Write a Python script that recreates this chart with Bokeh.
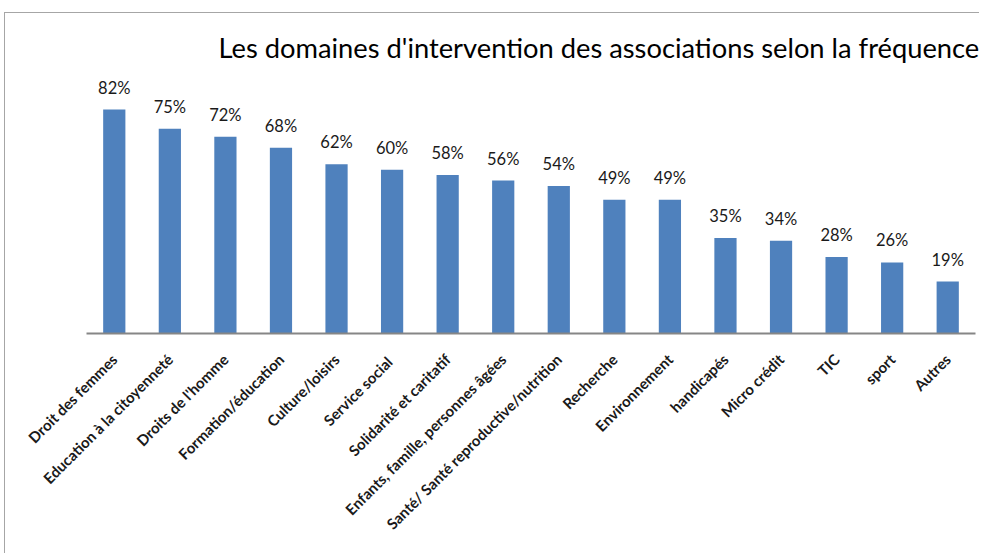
from bokeh.plotting import figure
from bokeh.models import ColumnDataSource, Range1d, FactorRange
from bokeh.core.properties import value
from bokeh.embed import file_html
from bokeh.resources import INLINE
from math import pi

title_text = "Les domaines d'intervention des associations selon la fréquence"
categories = ["Droit des femmes", "Education à la citoyenneté", "Droits de l'homme",
              "Formation/éducation", "Culture/loisirs", "Service  social",
              "Solidarité et caritatif", "Enfants, famille, personnes âgées",
              "Santé/ Santé reproductive/nutrition", "Recherche", "Environnement",
              "handicapés", "Micro crédit", "TIC", "sport", "Autres"]
values = [82, 75, 72, 68, 62, 60, 58, 56, 54, 49, 49, 35, 34, 28, 26, 19]
value_labels = [f"{v}%" for v in values]

src = ColumnDataSource(dict(cat=categories, val=values, lab=value_labels))

p = figure(width=975, height=541, output_backend="svg", toolbar_location=None,
           x_range=FactorRange(*categories), y_range=Range1d(0, 96.3),
           min_border_left=81, min_border_right=5, min_border_top=57,
           min_border_bottom=221)
p.styles = {"margin-left": "4px", "margin-top": "12px",
            "border-left": "1px solid #a6a6a6", "border-top": "1px solid #a6a6a6"}

p.title.text = title_text
p.title.text_font = "Lato"
p.title.text_font_style = "normal"
p.title.text_font_size = "27.3px"
p.title.text_color = "#000000"
p.title.align = "left"
p.title.offset = 132
p.title.standoff = 14

p.vbar(x="cat", top="val", width=0.4, source=src, color="#4F81BD", line_color=None)
p.text(x="cat", y="val", text="lab", source=src, y_offset=-12,
       text_align="center", text_baseline="bottom", text_font_size="16.5px",
       text_font=value("Lato"), text_color="#1a1a1a")

p.yaxis.visible = False
p.xgrid.grid_line_color = None
p.ygrid.grid_line_color = None
p.outline_line_color = None
p.xaxis.axis_line_color = "#868686"
p.xaxis.axis_line_width = 2
p.xaxis.major_tick_line_color = None
p.xaxis.minor_tick_line_color = None
p.xaxis.major_label_orientation = pi / 4
p.xaxis.major_label_standoff = 17
p.xaxis.major_label_text_font = "Lato"
p.xaxis.major_label_text_font_style = "bold"
p.xaxis.major_label_text_font_size = "15px"
p.xaxis.major_label_text_color = "#1a1a1a"
p.x_range.range_padding = 0
p.background_fill_color = "white"
p.border_fill_color = "white"

open("out.html", "w").write(file_html(p, INLINE))
